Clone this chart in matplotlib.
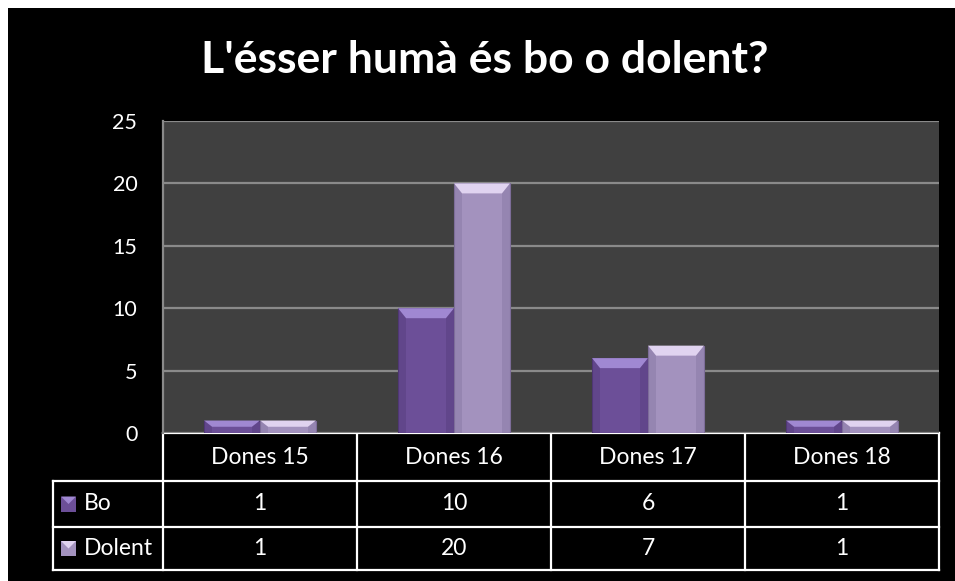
import numpy as np
import matplotlib
matplotlib.use('Agg')
import matplotlib.pyplot as plt
from matplotlib.patches import Rectangle, Polygon

categories = ['Dones 15', 'Dones 16', 'Dones 17', 'Dones 18']
series_names = ['Bo', 'Dolent']
bo = [1, 10, 6, 1]
dolent = [1, 20, 7, 1]
yticks = [0, 5, 10, 15, 20, 25]
title = "L'ésser humà és bo o dolent?"

plt.rcParams['font.family'] = ['Lato', 'DejaVu Sans']

W, H = 955, 581
fig = plt.figure(figsize=(W / 100, H / 100), dpi=100, facecolor='white')

# overlay in pixel coordinates: black chart area, table, title
ov = fig.add_axes([0, 0, 1, 1], zorder=-10)
ov.set_xlim(0, W)
ov.set_ylim(H, 0)
ov.axis('off')
ov.add_patch(Rectangle((8, 8), W - 8, H - 8, facecolor='black',
                       edgecolor='none'))

# plot area in pixels: x 163..939, y 121..433
px0, px1, py0, py1 = 163, 939, 121, 433
ax = fig.add_axes([px0 / W, 1 - py1 / H, (px1 - px0) / W, (py1 - py0) / H])
ax.set_facecolor('#404040')
ax.set_xlim(-0.5, len(categories) - 0.5)
ax.set_ylim(0, 25)
ax.set_yticks(yticks)
ax.set_xticks([])
ax.tick_params(axis='y', length=0, pad=18.5, labelsize=15.5, labelcolor='white')
ax.grid(axis='y', color='#8a8a8a', linewidth=1.6)
ax.set_axisbelow(True)
for s in ax.spines.values():
    s.set_visible(False)
ax.spines['left'].set_visible(True)
ax.spines['left'].set_color('#8a8a8a')
ax.spines['left'].set_linewidth(1.6)

col_w = (px1 - px0) / len(categories)
bar_w = 56 / col_w
colors = {'Bo': ('#6c4f98', '#a088d2', '#4f3774'),
          'Dolent': ('#a392be', '#e0d3f0', '#7d6d99')}
x = np.arange(len(categories))

# pixel to data conversion for the bevel
bev_x = 8 / col_w
bev_y = 10 / ((py1 - py0) / 25)

for vals, name, off in [(bo, 'Bo', -bar_w / 2), (dolent, 'Dolent', bar_w / 2)]:
    main, light, dark = colors[name]
    bars = ax.bar(x + off, vals, width=bar_w, color=main, edgecolor=dark,
                  linewidth=0.8, zorder=3)
    for b, v in zip(bars, vals):
        x0, x1 = b.get_x(), b.get_x() + b.get_width()
        by = min(bev_y, 0.5 * v)
        # top bevel
        ax.add_patch(Polygon([(x0, v), (x1, v), (x1 - bev_x, v - by),
                              (x0 + bev_x, v - by)], closed=True,
                             facecolor=light, edgecolor='none', zorder=4))
        # side bevels
        for xe, xi in [(x0, x0 + bev_x), (x1, x1 - bev_x)]:
            ax.add_patch(Polygon([(xe, v), (xi, v - by), (xi, 0), (xe, 0)],
                                 closed=True, facecolor=dark, alpha=0.35,
                                 edgecolor='none', zorder=4))

# data table under the plot
lab_x0 = 53
row_y = [433, 481, 527, 570]
col_x = [px0 + col_w * j for j in range(len(categories) + 1)]
lw = 1.6
tc = 'white'
fs = 16.5
# horizontal lines
ov.plot([px0, px1], [row_y[0], row_y[0]], color=tc, lw=lw)
for yy in row_y[1:]:
    ov.plot([lab_x0, px1], [yy, yy], color=tc, lw=lw)
# vertical lines
ov.plot([lab_x0, lab_x0], [row_y[1], row_y[-1]], color=tc, lw=lw)
for xx in col_x:
    ov.plot([xx, xx], [row_y[0], row_y[-1]], color=tc, lw=lw)

for j, c in enumerate(categories):
    ov.text((col_x[j] + col_x[j + 1]) / 2, (row_y[0] + row_y[1]) / 2, c,
            color=tc, fontsize=fs, ha='center', va='center')
for i, (name, vals) in enumerate(zip(series_names, [bo, dolent])):
    yc = (row_y[i + 1] + row_y[i + 2]) / 2
    main, light, dark = colors[name]
    # legend key
    k0, k1 = 61, 76
    ov.add_patch(Rectangle((k0, yc - 7.5), k1 - k0, 15, facecolor=main,
                           edgecolor='none'))
    ov.add_patch(Polygon([(k0, yc - 7.5), (k1, yc - 7.5), ((k0 + k1) / 2, yc)],
                         closed=True, facecolor=light, edgecolor='none'))
    ov.text(84, yc, name, color=tc, fontsize=fs, ha='left', va='center')
    for j, v in enumerate(vals):
        ov.text((col_x[j] + col_x[j + 1]) / 2, yc, str(v), color=tc,
                fontsize=fs, ha='center', va='center')

ov.text(485, 73, title, color='white', fontsize=32, fontweight='bold',
        ha='center', va='baseline')

fig.savefig('out.png', dpi=100, facecolor='white')
